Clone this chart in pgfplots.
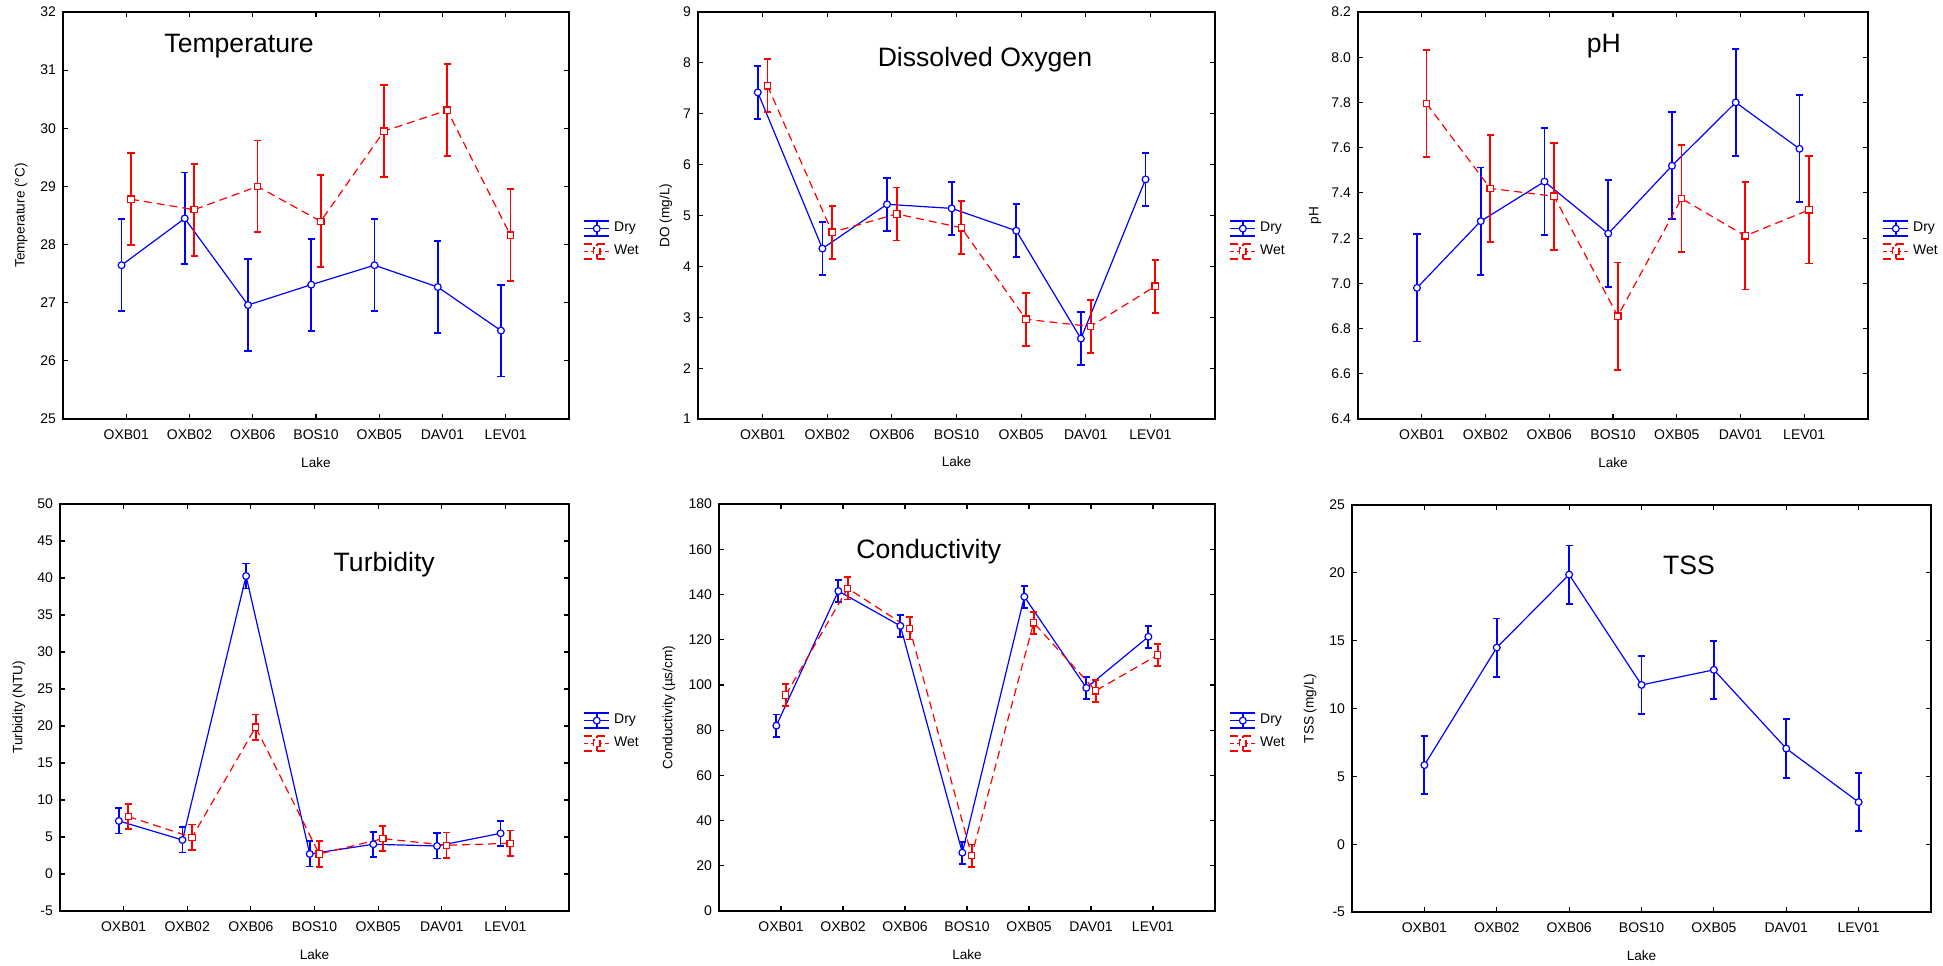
\documentclass[border=0pt]{standalone}
\usepackage{fontspec}
\setmainfont{Liberation Sans}
\usepackage{pgfplots}
\pgfplotsset{compat=1.18}
\definecolor{dryblue}{RGB}{0,0,255}
\definecolor{wetred}{RGB}{255,0,0}
\tikzset{ttl/.style={font=\fontsize{13.3}{15}\selectfont, anchor=center}}
\newcommand{\lblfont}{\fontsize{6.8}{8}\selectfont}
\pgfplotsset{
  lakeaxis/.style={
    scale only axis,
    anchor=north west,
    xmin=-1, xmax=7,
    xtick={0,...,6},
    xticklabels={OXB01,OXB02,OXB06,BOS10,OXB05,DAV01,LEV01},
    tick align=inside,
    major tick length=2.5pt,
    axis line style={line width=0.7pt},
    every tick/.style={black, line width=0.6pt},
    tick label style={font=\fontsize{7}{8}\selectfont},
    /pgf/number format/assume math mode=true,
    xticklabel style={yshift=-2pt},
    xlabel={Lake},
    every axis x label/.style={at={(axis description cs:0.5,-0.106)}, anchor=center, font=\lblfont},
    legend style={draw=none, fill=none, font=\fontsize{7}{8}\selectfont,
      at={(1,0.44)}, anchor=west, xshift=7pt, inner sep=0pt, row sep=1pt,
      cells={anchor=west}},
    clip=false,
  },
  dry/.style={color=dryblue, line width=0.6pt, mark=*, mark size=1.7pt,
    mark options={fill=white, solid, line width=0.6pt},
    legend image code/.code={%
      \draw[dryblue, line width=0.9pt] (0pt,3.7pt) -- (12.5pt,3.7pt) (0pt,-3.7pt) -- (12.5pt,-3.7pt) (6.25pt,-3.7pt) -- (6.25pt,3.7pt);
      \draw[dryblue, line width=0.6pt] (0pt,0pt) -- (12.5pt,0pt);
      \draw[dryblue, fill=white, line width=0.6pt] (6.25pt,0pt) circle (1.7pt);},
    error bars/.cd, y dir=both, y explicit,
    error bar style={line width=0.9pt, solid},
    error mark options={rotate=90, mark size=1.8pt, line width=0.9pt, solid}},
  wet/.style={color=wetred, line width=0.6pt, dash pattern=on 4pt off 2.5pt,
    mark=square*, mark size=1.6pt,
    mark options={fill=white, solid, line width=0.6pt},
    legend image code/.code={%
      \draw[wetred, line width=0.9pt] (0pt,3.7pt) -- (12.5pt,3.7pt) (0pt,-3.7pt) -- (12.5pt,-3.7pt) (6.25pt,-3.7pt) -- (6.25pt,3.7pt);
      \draw[wetred, line width=0.6pt, dash pattern=on 2pt off 1.5pt] (0pt,0pt) -- (12.5pt,0pt);
      \draw[wetred, fill=white, line width=0.6pt] (4.65pt,-1.6pt) rectangle (7.85pt,1.6pt);},
    error bars/.cd, y dir=both, y explicit,
    error bar style={line width=0.9pt, solid},
    error mark options={rotate=90, mark size=1.8pt, line width=0.9pt, solid}},
}
\begin{document}
\begin{tikzpicture}
\useasboundingbox (0,0) rectangle (971.5pt,-482.5pt);

% ---------------- Temperature
\begin{axis}[lakeaxis, at={(31.5pt,-6pt)}, width=253pt, height=203.5pt,
  ymin=25, ymax=32, ytick={25,...,32},
  ylabel={Temperature (°C)},
  every axis y label/.style={at={(axis description cs:-0.083,0.5)}, rotate=90, anchor=center, font=\lblfont}]
\addplot[dry] coordinates {
 (-0.075,27.645) +- (0,0.79) (0.925,28.45) +- (0,0.79) (1.925,26.96) +- (0,0.79)
 (2.925,27.31) +- (0,0.79) (3.925,27.645) +- (0,0.79) (4.925,27.27) +- (0,0.79)
 (5.925,26.52) +- (0,0.79)};
\addlegendentry{Dry}
\addplot[wet] coordinates {
 (0.075,28.78) +- (0,0.79) (1.075,28.60) +- (0,0.79) (2.075,29.00) +- (0,0.79)
 (3.075,28.40) +- (0,0.79) (4.075,29.95) +- (0,0.79) (5.075,30.31) +- (0,0.79)
 (6.075,28.16) +- (0,0.79)};
\addlegendentry{Wet}
\node[ttl] at (rel axis cs:0.348,0.916) {Temperature};
\end{axis}

% ---------------- Dissolved Oxygen
\begin{axis}[lakeaxis, at={(349pt,-6pt)}, width=258.5pt, height=203.5pt,
  ymin=1, ymax=9, ytick={1,...,9},
  ylabel={DO (mg/L)},
  every axis y label/.style={at={(axis description cs:-0.062,0.5)}, rotate=90, anchor=center, font=\lblfont}]
\addplot[dry] coordinates {
 (-0.075,7.42) +- (0,0.52) (0.925,4.35) +- (0,0.52) (1.925,5.22) +- (0,0.52)
 (2.925,5.14) +- (0,0.52) (3.925,4.70) +- (0,0.52) (4.925,2.58) +- (0,0.52)
 (5.925,5.71) +- (0,0.52)};
\addlegendentry{Dry}
\addplot[wet] coordinates {
 (0.075,7.55) +- (0,0.52) (1.075,4.67) +- (0,0.52) (2.075,5.03) +- (0,0.52)
 (3.075,4.76) +- (0,0.52) (4.075,2.96) +- (0,0.52) (5.075,2.82) +- (0,0.52)
 (6.075,3.61) +- (0,0.52)};
\addlegendentry{Wet}
\node[ttl] at (rel axis cs:0.555,0.884) {Dissolved Oxygen};
\end{axis}

% ---------------- pH
\begin{axis}[lakeaxis, at={(679pt,-6pt)}, width=255pt, height=203.5pt,
  ymin=6.4, ymax=8.2, ytick={6.4,6.6,...,8.21},
  yticklabel style={/pgf/number format/fixed, /pgf/number format/precision=1, /pgf/number format/fixed zerofill},
  ylabel={pH},
  every axis y label/.style={at={(axis description cs:-0.084,0.5)}, rotate=90, anchor=center, font=\lblfont}]
\addplot[dry] coordinates {
 (-0.075,6.98) +- (0,0.237) (0.925,7.275) +- (0,0.237) (1.925,7.45) +- (0,0.237)
 (2.925,7.22) +- (0,0.237) (3.925,7.52) +- (0,0.237) (4.925,7.80) +- (0,0.237)
 (5.925,7.595) +- (0,0.237)};
\addlegendentry{Dry}
\addplot[wet] coordinates {
 (0.075,7.795) +- (0,0.237) (1.075,7.42) +- (0,0.237) (2.075,7.385) +- (0,0.237)
 (3.075,6.855) +- (0,0.237) (4.075,7.375) +- (0,0.237) (5.075,7.21) +- (0,0.237)
 (6.075,7.325) +- (0,0.237)};
\addlegendentry{Wet}
\node[ttl] at (rel axis cs:0.482,0.916) {pH};
\end{axis}

% ---------------- Turbidity
\begin{axis}[lakeaxis, at={(30pt,-252pt)}, width=254.5pt, height=203.5pt,
  ymin=-5, ymax=50, ytick={-5,0,...,50},
  ylabel={Turbidity (NTU)},
  every axis y label/.style={at={(axis description cs:-0.081,0.5)}, rotate=90, anchor=center, font=\lblfont}]
\addplot[dry] coordinates {
 (-0.075,7.17) +- (0,1.7) (0.925,4.60) +- (0,1.7) (1.925,40.27) +- (0,1.7)
 (2.925,2.71) +- (0,1.7) (3.925,4.02) +- (0,1.7) (4.925,3.79) +- (0,1.7)
 (5.925,5.50) +- (0,1.7)};
\addlegendentry{Dry}
\addplot[wet] coordinates {
 (0.075,7.76) +- (0,1.72) (1.075,4.96) +- (0,1.72) (2.075,19.84) +- (0,1.72)
 (3.075,2.71) +- (0,1.72) (4.075,4.78) +- (0,1.72) (5.075,3.88) +- (0,1.72)
 (6.075,4.15) +- (0,1.72)};
\addlegendentry{Wet}
\node[ttl] at (rel axis cs:0.637,0.85) {Turbidity};
\end{axis}

% ---------------- Conductivity
\begin{axis}[lakeaxis, at={(359.5pt,-252pt)}, width=248pt, height=203.5pt,
  ymin=0, ymax=180, ytick={0,20,...,180},
  ylabel={Conductivity (µs/cm)},
  every axis y label/.style={at={(axis description cs:-0.101,0.5)}, rotate=90, anchor=center, font=\lblfont}]
\addplot[dry] coordinates {
 (-0.075,82.0) +- (0,4.9) (0.925,141.5) +- (0,4.9) (1.925,126.1) +- (0,4.9)
 (2.925,25.8) +- (0,4.9) (3.925,139.0) +- (0,4.9) (4.925,98.7) +- (0,4.9)
 (5.925,121.3) +- (0,4.9)};
\addlegendentry{Dry}
\addplot[wet] coordinates {
 (0.075,95.5) +- (0,4.9) (1.075,142.7) +- (0,4.9) (2.075,125.0) +- (0,4.9)
 (3.075,24.5) +- (0,4.9) (4.075,127.5) +- (0,4.9) (5.075,97.4) +- (0,4.9)
 (6.075,113.2) +- (0,4.9)};
\addlegendentry{Wet}
\node[ttl] at (rel axis cs:0.423,0.882) {Conductivity};
\end{axis}

% ---------------- TSS
\begin{axis}[lakeaxis, at={(676pt,-252.5pt)}, width=289.5pt, height=203.5pt,
  ymin=-5, ymax=25, ytick={-5,0,...,25},
  ylabel={TSS (mg/L)},
  every axis y label/.style={at={(axis description cs:-0.0725,0.5)}, rotate=90, anchor=center, font=\lblfont}]
\addplot[dry] coordinates {
 (0,5.83) +- (0,2.15) (1,14.49) +- (0,2.15) (2,19.87) +- (0,2.15)
 (3,11.74) +- (0,2.15) (4,12.85) +- (0,2.15) (5,7.05) +- (0,2.15)
 (6,3.10) +- (0,2.15)};
\node[ttl] at (rel axis cs:0.582,0.853) {TSS};
\end{axis}
\end{tikzpicture}
\end{document}
